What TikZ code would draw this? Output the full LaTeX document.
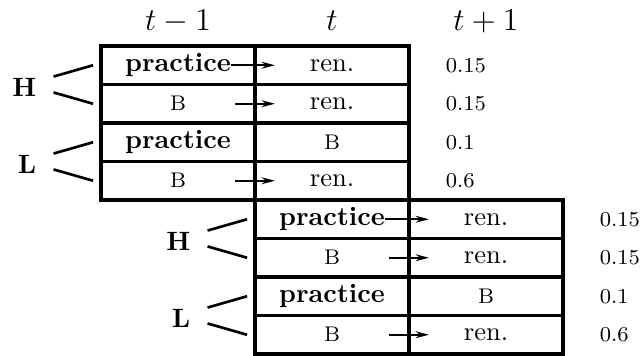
\documentclass[tikz,border=0pt]{standalone}
\usepackage{amsmath}
\usepackage{tikz}
\usetikzlibrary{arrows.meta,positioning}

\begin{document}
\begin{tikzpicture}[
    x=0.3774pt, y=-0.3774pt,
    cell/.style={
        rectangle,
        draw=black,
        line width=1.3pt,
        minimum width=58.12pt,
        minimum height=14.53pt,
        inner sep=0pt,
        outer sep=0pt
    },
    act/.style={cell, font=\bfseries},
    sm/.style={cell, font=\footnotesize},
    state/.style={font=\bfseries},
    head/.style={font=\large, anchor=base},
    prob/.style={font=\footnotesize},
    branch/.style={line width=1pt},
    arrow/.style={->, >={Stealth[length=5pt,width=2.6pt]}, line width=0.75pt}
]
\useasboundingbox (0,0) rectangle (641,356);

% First block (t-1 -> t)
\node[act] (a11) at (178,65.25) {practice};
\node[cell, right=0pt of a11] (a12) {ren.};
\node[sm, below=0pt of a11] (a21) {B};
\node[cell, right=0pt of a21] (a22) {ren.};
\node[act, below=0pt of a21] (a31) {practice};
\node[sm, right=0pt of a31] (a32) {B};
\node[sm, below=0pt of a31] (a41) {B};
\node[cell, right=0pt of a41] (a42) {ren.};

% Second block (t -> t+1)
\node[act, below=0pt of a42] (b11) {practice};
\node[cell, right=0pt of b11] (b12) {ren.};
\node[sm, below=0pt of b11] (b21) {B};
\node[cell, right=0pt of b21] (b22) {ren.};
\node[act, below=0pt of b21] (b31) {practice};
\node[sm, right=0pt of b31] (b32) {B};
\node[sm, below=0pt of b31] (b41) {B};
\node[cell, right=0pt of b41] (b42) {ren.};

% Time steps
\coordinate (top3) at (b12 |- a12.north);
\node[head] (tprev) at ([yshift=6pt]a11.north) {$t-1$};
\node[head] (tnow) at ([yshift=6pt]a12.north) {$t$};
\node[head] (tnext) at ([yshift=6pt]top3) {$t+1$};

% States
\node[state, left=20.9pt of a11.south west, yshift=-1.2pt] (ha) {H};
\node[state, left=20.9pt of a31.south west, yshift=-1.2pt] (la) {L};
\node[state, left=20.9pt of b11.south west, yshift=-1.2pt] (hb) {H};
\node[state, left=20.9pt of b31.south west, yshift=-1.2pt] (lb) {L};

\draw[branch] ([xshift=3pt,yshift=4.2pt]ha.east) -- ([xshift=-3pt]a11.west);
\draw[branch] ([xshift=3pt,yshift=-1.8pt]ha.east) -- ([xshift=-3pt]a21.west);
\draw[branch] ([xshift=3pt,yshift=4.2pt]la.east) -- ([xshift=-3pt]a31.west);
\draw[branch] ([xshift=3pt,yshift=-1.8pt]la.east) -- ([xshift=-3pt]a41.west);
\draw[branch] ([xshift=3pt,yshift=4.2pt]hb.east) -- ([xshift=-3pt]b11.west);
\draw[branch] ([xshift=3pt,yshift=-1.8pt]hb.east) -- ([xshift=-3pt]b21.west);
\draw[branch] ([xshift=3pt,yshift=4.2pt]lb.east) -- ([xshift=-3pt]b31.west);
\draw[branch] ([xshift=3pt,yshift=-1.8pt]lb.east) -- ([xshift=-3pt]b41.west);

% Transitions
\draw[arrow] ([xshift=-9pt]a11.east) -- ([xshift=7.5pt]a12.west);
\draw[arrow] ([xshift=-7.5pt]a21.east) -- ([xshift=7.5pt]a22.west);
\draw[arrow] ([xshift=-7.5pt]a41.east) -- ([xshift=7.5pt]a42.west);
\draw[arrow] ([xshift=-9pt]b11.east) -- ([xshift=7.5pt]b12.west);
\draw[arrow] ([xshift=-7.5pt]b21.east) -- ([xshift=7.5pt]b22.west);
\draw[arrow] ([xshift=-7.5pt]b41.east) -- ([xshift=7.5pt]b42.west);

% Probabilities
\node[prob, right=10.4pt of a12] (pa1) {0.15};
\node[prob, right=10.4pt of a22] (pa2) {0.15};
\node[prob, right=10.4pt of a32] (pa3) {0.1};
\node[prob, right=10.4pt of a42] (pa4) {0.6};
\node[prob, right=10.4pt of b12] (pb1) {0.15};
\node[prob, right=10.4pt of b22] (pb2) {0.15};
\node[prob, right=10.4pt of b32] (pb3) {0.1};
\node[prob, right=10.4pt of b42] (pb4) {0.6};

\end{tikzpicture}
\end{document}
